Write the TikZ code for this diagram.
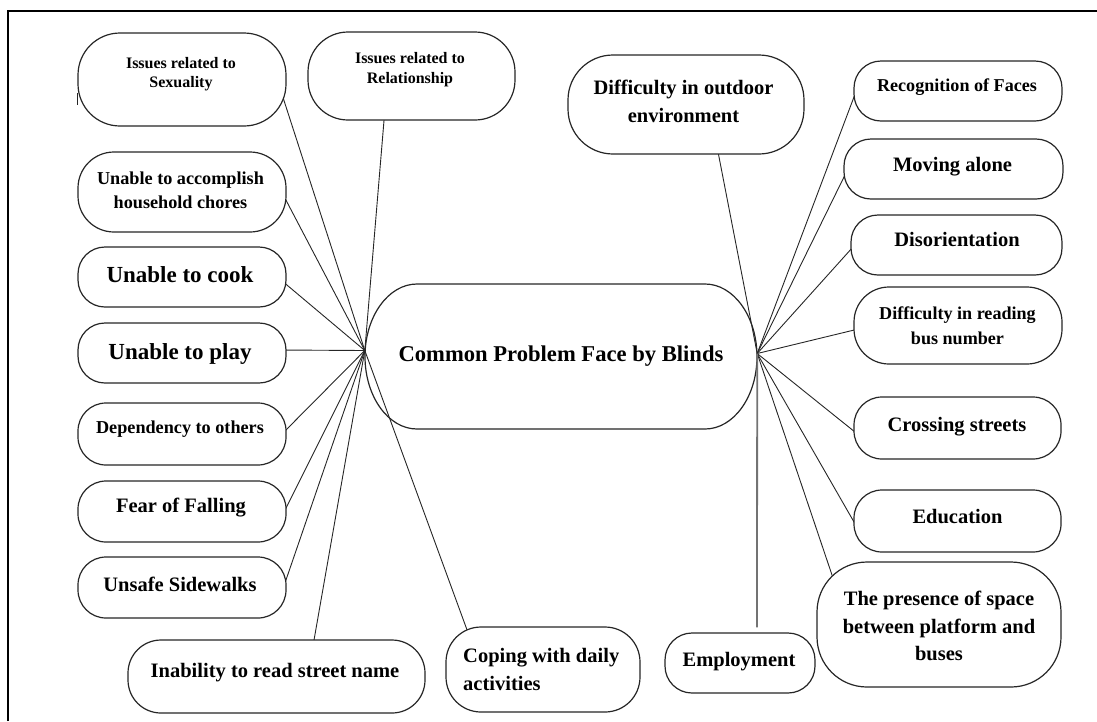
\documentclass[tikz,border=0pt]{standalone}
\usepackage{fontspec}
\setmainfont{Liberation Serif}
\usetikzlibrary{calc}
\pgfdeclarelayer{bg}
\pgfdeclarelayer{lines}
\pgfsetlayers{bg,lines,main}
\tikzset{
  leaf/.style={draw=black!85, line width=1.2pt, fill=white, rectangle, inner sep=0pt},
  lbl/.style={align=center, inner sep=0pt, text=black},
  fs/.style 2 args={font=\bfseries\fontsize{#1pt}{#2pt}\selectfont},
  link/.style={draw=black!85, line width=0.9pt},
  emplink/.style={draw=black!55, line width=1.8pt},
  frame/.style={draw=black, line width=1.2pt},
}
\begin{document}
\begin{tikzpicture}[x=1pt, y=-1pt]
\useasboundingbox (0,0) rectangle (1097,721);
\draw[frame] (8,721) -- (8,11) -- (1097,11);

% centre node
\node[lbl, fs={22.6}{27}, minimum width=392pt, minimum height=145pt] (ctr) at (561,356.5) {Common Problem Face by Blinds};
\begin{pgfonlayer}{bg}
\draw[line width=1.2pt, draw=black!85, fill=white] (417,284) -- (705,284)
  .. controls (733.7,284) and (757,316.5) .. (757,356.5)
  .. controls (757,396.5) and (733.7,429) .. (705,429) -- (417,429)
  .. controls (388.3,429) and (365,396.5) .. (365,356.5)
  .. controls (365,316.5) and (388.3,284) .. (417,284) -- cycle;
\end{pgfonlayer}
\coordinate (hubL) at ($(ctr.west)+(0,-6)$);
\coordinate (hubR) at ($(ctr.east)+(0,-3)$);

% left side boxes
\node[leaf, minimum width=208pt, minimum height=93pt, rounded corners=42pt] (sex) at (182,79.5) {};
\node[lbl, fs={16}{19.5}, anchor=north] (sex-t) at (181,57) {Issues related to\\Sexuality};
\draw[line width=1pt, draw=black!85] (77,93) -- (77,105);

\node[leaf, minimum width=207pt, minimum height=88pt, rounded corners=40pt] (rel) at (411.5,76) {};
\node[lbl, fs={16}{20}, anchor=north] (rel-t) at (410,52) {Issues related to\\Relationship};

\node[leaf, minimum width=208pt, minimum height=80pt, rounded corners=36pt] (house) at (182,192) {};
\node[lbl, fs={18.2}{23.5}, anchor=north] (house-t) at (180.5,172) {Unable to accomplish\\household chores};

\node[leaf, minimum width=208pt, minimum height=60pt, rounded corners=27pt] (cook) at (182,277) {};
\node[lbl, fs={23}{28}, anchor=base] (cook-t) at (180,282.6) {Unable to cook};

\node[leaf, minimum width=208pt, minimum height=60pt, rounded corners=27pt] (play) at (182,353) {};
\node[lbl, fs={23}{28}, anchor=base] (play-t) at (180,359) {Unable to play};

\node[leaf, minimum width=208pt, minimum height=62pt, rounded corners=28pt] (dep) at (182,434) {};
\node[lbl, fs={18.2}{22}, anchor=base] (dep-t) at (180,433.5) {Dependency to others};

\node[leaf, minimum width=208pt, minimum height=61pt, rounded corners=28pt] (fear) at (182,511.5) {};
\node[lbl, fs={20.5}{25}, anchor=base] (fear-t) at (181,512.8) {Fear of Falling};

\node[leaf, minimum width=208pt, minimum height=61pt, rounded corners=28pt] (unsafe) at (182,587.5) {};
\node[lbl, fs={20.5}{25}, anchor=base] (unsafe-t) at (180,591.8) {Unsafe Sidewalks};

\node[leaf, minimum width=297pt, minimum height=73pt, rounded corners=33pt] (inab) at (276.5,676.5) {};
\node[lbl, fs={20.5}{25}, anchor=base] (inab-t) at (275,677.8) {Inability to read street name};

\node[leaf, minimum width=194pt, minimum height=85pt, rounded corners=35pt] (coping) at (543,669.5) {};
\node[lbl, fs={20.5}{28}, align=left, anchor=north west] (coping-t) at (463,648) {Coping with daily\\activities};

% right side boxes
\node[leaf, minimum width=150pt, minimum height=60pt, rounded corners=27pt] (emp) at (740,663) {};
\node[lbl, fs={20.5}{25}, anchor=base] (emp-t) at (739,666.8) {Employment};

\node[leaf, minimum width=244pt, minimum height=125pt, rounded corners=50pt] (pres) at (939,624.5) {};
\node[lbl, fs={20.5}{27.5}, anchor=north] (pres-t) at (939,591) {The presence of space\\between platform and\\buses};

\node[leaf, minimum width=207pt, minimum height=62pt, rounded corners=28pt] (edu) at (957.5,521) {};
\node[lbl, fs={20.5}{25}, anchor=base] (edu-t) at (957.5,523.8) {Education};

\node[leaf, minimum width=207pt, minimum height=62pt, rounded corners=28pt] (cross) at (957.5,428) {};
\node[lbl, fs={20.5}{25}, anchor=base] (cross-t) at (957,431.8) {Crossing streets};

\node[leaf, minimum width=208pt, minimum height=77pt, rounded corners=35pt] (bus) at (958,325.5) {};
\node[lbl, fs={18.1}{25}, anchor=north] (bus-t) at (957.5,307) {Difficulty in reading\\bus number};

\node[leaf, minimum width=211pt, minimum height=60pt, rounded corners=27pt] (dis) at (956.5,245) {};
\node[lbl, fs={20.5}{25}, anchor=base] (dis-t) at (957,246.8) {Disorientation};

\node[leaf, minimum width=219pt, minimum height=60pt, rounded corners=27pt] (mov) at (953.5,169) {};
\node[lbl, fs={20.5}{25}, anchor=base] (mov-t) at (952.5,171.8) {Moving alone};

\node[leaf, minimum width=208pt, minimum height=60pt, rounded corners=27pt] (rec) at (958,91) {};
\node[lbl, fs={18.1}{22}, anchor=base] (rec-t) at (957,91) {Recognition of Faces};

\node[leaf, minimum width=236pt, minimum height=99pt, rounded corners=45pt] (out) at (686,104.5) {};
\node[lbl, fs={20.5}{28}, anchor=north] (out-t) at (683.5,80) {Difficulty in outdoor\\environment};

% connectors
\begin{pgfonlayer}{lines}
\draw[link] (hubL) -- ($(sex.center)+(101,18)$);
\draw[link] (hubL) -- ($(rel.center)+(-26.7,35)$);
\draw[link] (hubL) -- ($(house.center)+(99.3,-0.8)$);
\draw[link] (hubL) -- ($(cook.center)+(97.3,1.6)$);
\draw[link] (hubL) -- ($(play.center)+(97,-3)$);
\draw[link] (hubL) -- ($(dep.center)+(97,3)$);
\draw[link] (hubL) -- ($(fear.center)+(99.5,5.5)$);
\draw[link] (hubL) -- ($(unsafe.center)+(100.7,2)$);
\draw[link] (hubL) -- ($(inab.center)+(35.8,-26.7)$);
\draw[link] (hubL) -- ($(coping.center)+(-73.6,-33.1)$);
\draw[link] (hubR) -- ($(out.center)+(31.1,42.7)$);
\draw[link] (hubR) -- ($(rec.center)+(-100.5,-3.4)$);
\draw[link] (hubR) -- ($(mov.center)+(-105.1,-1)$);
\draw[link] (hubR) -- ($(dis.center)+(-97.8,-4.4)$);
\draw[link] (hubR) -- ($(bus.center)+(-94.3,2.2)$);
\draw[link] (hubR) -- ($(cross.center)+(-94.7,10.3)$);
\draw[link] (hubR) -- ($(edu.center)+(-98.5,9.7)$);
\draw[link] (hubR) -- ($(pres.center)+(-104.8,-43)$);
\draw[emplink] (hubR) -- ($(emp.north)+(17,-5)$);
\end{pgfonlayer}
\end{tikzpicture}
\end{document}
